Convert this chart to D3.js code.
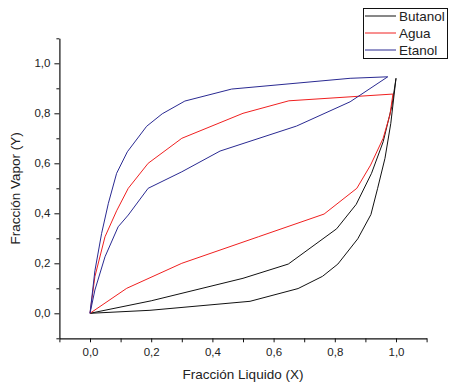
<!DOCTYPE html>
<html>
<head>
<meta charset="utf-8">
<script src="https://cdn.jsdelivr.net/npm/d3@7"></script>
<style>
  html, body { margin: 0; padding: 0; background: #fff; }
  svg { display: block; font-family: "Liberation Sans", Arial, sans-serif; }
</style>
</head>
<body>
<svg id="chart" width="450" height="387"></svg>
<script>
// ---- data ----
const seriesNames = ["Butanol", "Agua", "Etanol"];
const seriesColors = ["#111111", "#f02020", "#2a2a92"];

// Butanol branches
const butanolUpperX = [0, 0.2, 0.5, 0.648, 0.806, 0.87, 0.92, 0.958, 0.986, 1.0];
const butanolUpperY = [0, 0.05, 0.14, 0.197, 0.338, 0.436, 0.56, 0.686, 0.826, 0.94];
const butanolLowerX = [0, 0.196, 0.523, 0.68, 0.76, 0.81, 0.875, 0.918, 0.94, 0.964, 0.983, 1.0];
const butanolLowerY = [0, 0.012, 0.048, 0.099, 0.148, 0.197, 0.298, 0.395, 0.50, 0.62, 0.76, 0.94];

// Agua branches
const aguaUpperX = [0, 0.016, 0.049, 0.087, 0.125, 0.19, 0.30, 0.50, 0.65, 0.99];
const aguaUpperY = [0, 0.147, 0.306, 0.41, 0.50, 0.60, 0.70, 0.80, 0.85, 0.877];
const aguaLowerX = [0, 0.12, 0.30, 0.55, 0.765, 0.872, 0.917, 0.958, 0.98, 0.99];
const aguaLowerY = [0, 0.10, 0.20, 0.306, 0.397, 0.50, 0.593, 0.70, 0.793, 0.877];

// Etanol branches
const etanolUpperX = [0, 0.016, 0.038, 0.06, 0.087, 0.122, 0.185, 0.236, 0.31, 0.463, 0.85, 0.973];
const etanolUpperY = [0, 0.17, 0.32, 0.44, 0.56, 0.646, 0.748, 0.798, 0.849, 0.897, 0.94, 0.946];
const etanolLowerX = [0, 0.016, 0.049, 0.092, 0.125, 0.19, 0.30, 0.425, 0.675, 0.85, 0.973];
const etanolLowerY = [0, 0.093, 0.226, 0.346, 0.393, 0.50, 0.566, 0.649, 0.749, 0.846, 0.946];

const tickValuesX = [-0.1, 0, 0.1, 0.2, 0.3, 0.4, 0.5, 0.6, 0.7, 0.8, 0.9, 1.0, 1.1];
const tickValuesY = [-0.1, 0, 0.1, 0.2, 0.3, 0.4, 0.5, 0.6, 0.7, 0.8, 0.9, 1.0, 1.1];
const labelledTicks = [0, 0.2, 0.4, 0.6, 0.8, 1.0];
const xTitle = "Fracción Liquido (X)";
const yTitle = "Fracción Vapor (Y)";

// ---- build ----
const zip = (xs, ys) => xs.map((x, i) => [x, ys[i]]);
const series = [
  { name: seriesNames[0], color: seriesColors[0], branches: [zip(butanolUpperX, butanolUpperY), zip(butanolLowerX, butanolLowerY)] },
  { name: seriesNames[1], color: seriesColors[1], branches: [zip(aguaUpperX, aguaUpperY), zip(aguaLowerX, aguaLowerY)] },
  { name: seriesNames[2], color: seriesColors[2], branches: [zip(etanolUpperX, etanolUpperY), zip(etanolLowerX, etanolLowerY)] }
];

const svg = d3.select("#chart");
const x = d3.scaleLinear().domain([-0.1, 1.1]).range([59.4, 426.6]);
const y = d3.scaleLinear().domain([-0.1, 1.1]).range([338.3, 38.3]);

const isLabelled = v => labelledTicks.some(t => Math.abs(t - v) < 1e-9);
const fmt = v => isLabelled(v) ? d3.format(".1f")(v).replace(".", ",").replace("-0,0", "0,0") : "";

// curves
const line = d3.line().x(d => x(d[0])).y(d => y(d[1]));
series.forEach(s => {
  s.branches.forEach(b => {
    svg.append("path")
      .attr("d", line(b))
      .attr("fill", "none")
      .attr("stroke", s.color)
      .attr("stroke-width", 1)
      .attr("stroke-linejoin", "round");
  });
});

// axes
const xAxis = svg.append("g")
  .attr("transform", `translate(0,${y(-0.1)})`)
  .call(d3.axisBottom(x).tickValues(tickValuesX).tickFormat(fmt).tickSize(4).tickSizeOuter(0).tickPadding(6));
const yAxis = svg.append("g")
  .attr("transform", `translate(${x(-0.1)},0)`)
  .call(d3.axisLeft(y).tickValues(tickValuesY).tickFormat(fmt).tickSize(5).tickSizeOuter(0).tickPadding(4));

[xAxis, yAxis].forEach(g => {
  g.select(".domain").attr("stroke", "#111").attr("stroke-width", 1.2);
  g.selectAll(".tick line").attr("stroke", "#111").attr("stroke-width", 1);
  g.selectAll(".tick text").attr("fill", "#222").style("font-size", "11.5px")
    .style("font-family", '"Liberation Sans", Arial, sans-serif');
});
yAxis.selectAll(".tick").filter(d => !isLabelled(d)).select("line").attr("x2", -3);
xAxis.selectAll(".tick").filter(d => !isLabelled(d)).select("line").attr("y2", 4);

// axis titles
svg.append("text")
  .attr("x", (x(-0.1) + x(1.1)) / 2)
  .attr("y", 379)
  .attr("text-anchor", "middle")
  .attr("fill", "#222")
  .style("font-size", "13.5px")
  .text(xTitle);
svg.append("text")
  .attr("transform", `translate(19.5,${(y(-0.1) + y(1.1)) / 2}) rotate(-90)`)
  .attr("text-anchor", "middle")
  .attr("fill", "#222")
  .style("font-size", "13.5px")
  .text(yTitle);

// legend
const legend = svg.append("g");
legend.append("rect")
  .attr("x", 363.5).attr("y", 8.5).attr("width", 84).attr("height", 50)
  .attr("fill", "#fff").attr("stroke", "#111").attr("stroke-width", 1);
series.forEach((s, i) => {
  const ly = 16 + i * 17;
  legend.append("line")
    .attr("x1", 365).attr("x2", 396).attr("y1", ly).attr("y2", ly)
    .attr("stroke", s.color).attr("stroke-width", 1);
  legend.append("text")
    .attr("x", 399).attr("y", ly + 4.8)
    .attr("fill", "#222")
    .style("font-size", "13.5px")
    .text(s.name);
});
</script>
</body>
</html>
